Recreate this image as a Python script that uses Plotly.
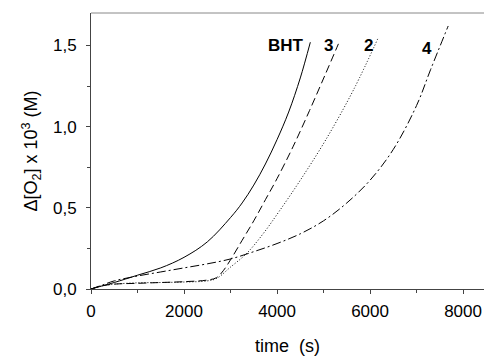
import plotly.graph_objects as go

# BHT (solid)
bht_t = [0, 250, 500, 1000, 1500, 2000, 2500, 3000, 3250, 3500, 3750, 4000, 4250, 4500, 4716]
bht_y = [0, 0.02, 0.04, 0.085, 0.13, 0.195, 0.29, 0.44, 0.53, 0.64, 0.77, 0.92, 1.09, 1.30, 1.52]

# 3 (dashed)
c3_t = [0, 250, 500, 1000, 1500, 2000, 2500, 2700, 2850, 3000, 3250, 3500, 3750, 4000, 4350, 4700, 5050, 5320]
c3_y = [0, 0.02, 0.03, 0.035, 0.04, 0.045, 0.055, 0.07, 0.115, 0.18, 0.30, 0.42, 0.55, 0.68, 0.88, 1.10, 1.33, 1.51]

# 2 (dotted)
c2_t = [0, 250, 500, 1000, 1500, 2000, 2500, 2700, 3000, 3350, 3700, 4050, 4500, 5050, 5650, 6180]
c2_y = [0, 0.02, 0.03, 0.038, 0.04, 0.043, 0.05, 0.065, 0.135, 0.22, 0.34, 0.48, 0.67, 0.92, 1.23, 1.55]

# 4 (dash-dot)
c4_t = [0, 250, 500, 1000, 1500, 2000, 2500, 3000, 3500, 4000, 4500, 5000, 5500, 6000, 6500, 7000, 7300, 7680]
c4_y = [0, 0.025, 0.05, 0.08, 0.105, 0.13, 0.155, 0.185, 0.23, 0.28, 0.34, 0.42, 0.53, 0.67, 0.86, 1.13, 1.35, 1.62]

labels = ["BHT", "3", "2", "4"]
label_x = [4183, 5097, 5957, 7215]
label_y = [1.50, 1.50, 1.50, 1.48]

x_ticks = [0, 2000, 4000, 6000, 8000]
x_ticktext = ["0", "2000", "4000", "6000", "8000"]
y_ticks = [0, 0.5, 1.0, 1.5]
y_ticktext = ["0,0", "0,5", "1,0", "1,5"]

fig = go.Figure()
series = [
    (bht_t, bht_y, "solid"),
    (c3_t, c3_y, "8px,4px"),
    (c2_t, c2_y, "1px,2px"),
    (c4_t, c4_y, "9px,3px,2px,3px"),
]
for t, y, dash in series:
    fig.add_trace(go.Scatter(x=t, y=y, mode="lines",
                             line=dict(color="black", width=1, dash=dash, shape="spline", smoothing=1.0),
                             showlegend=False, hoverinfo="skip"))

for lab, lx, ly in zip(labels, label_x, label_y):
    fig.add_annotation(x=lx, y=ly, text="<b>%s</b>" % lab, showarrow=False,
                       font=dict(family="Arial, Liberation Sans", size=17, color="black"))

fig.add_shape(type="line", xref="paper", yref="paper", x0=0, x1=1, y0=1, y1=1,
              line=dict(color="#888", width=1))

fig.update_layout(
    width=484, height=358,
    margin=dict(l=91, r=0, t=13, b=69, autoexpand=False),
    plot_bgcolor="white", paper_bgcolor="white",
    font=dict(family="Arial, Liberation Sans", color="black"),
    xaxis=dict(range=[0, 8450], tickvals=x_ticks, ticktext=x_ticktext, automargin=False,
               ticks="outside", ticklen=4, tickcolor="#444", showline=True, linecolor="#444", linewidth=1,
               showgrid=False, zeroline=False, tickfont=dict(size=17), ticklabelstandoff=3,
               minor=dict(tickvals=[1000, 3000, 5000, 7000], ticks="outside", ticklen=3, tickcolor="#444"),
               title=dict(text="time&nbsp;&nbsp;(s)", font=dict(size=18), standoff=18)),
    yaxis=dict(range=[0, 1.7], tickvals=y_ticks, ticktext=y_ticktext, automargin=False,
               ticks="outside", ticklen=4, tickcolor="#444", showline=True, linecolor="#444", linewidth=1,
               showgrid=False, zeroline=False, tickfont=dict(size=17), ticklabelstandoff=6,
               minor=dict(tickvals=[0.25, 0.75, 1.25], ticks="outside", ticklen=3, tickcolor="#444"),
               title=dict(text="Δ[O<sub>2</sub>] x 10<sup>3</sup> (M)", font=dict(size=18), standoff=10)),
)

fig.write_html("out.html", config={"displayModeBar": False},
               post_script="document.body.style.margin='0';document.body.style.overflow='hidden';")
